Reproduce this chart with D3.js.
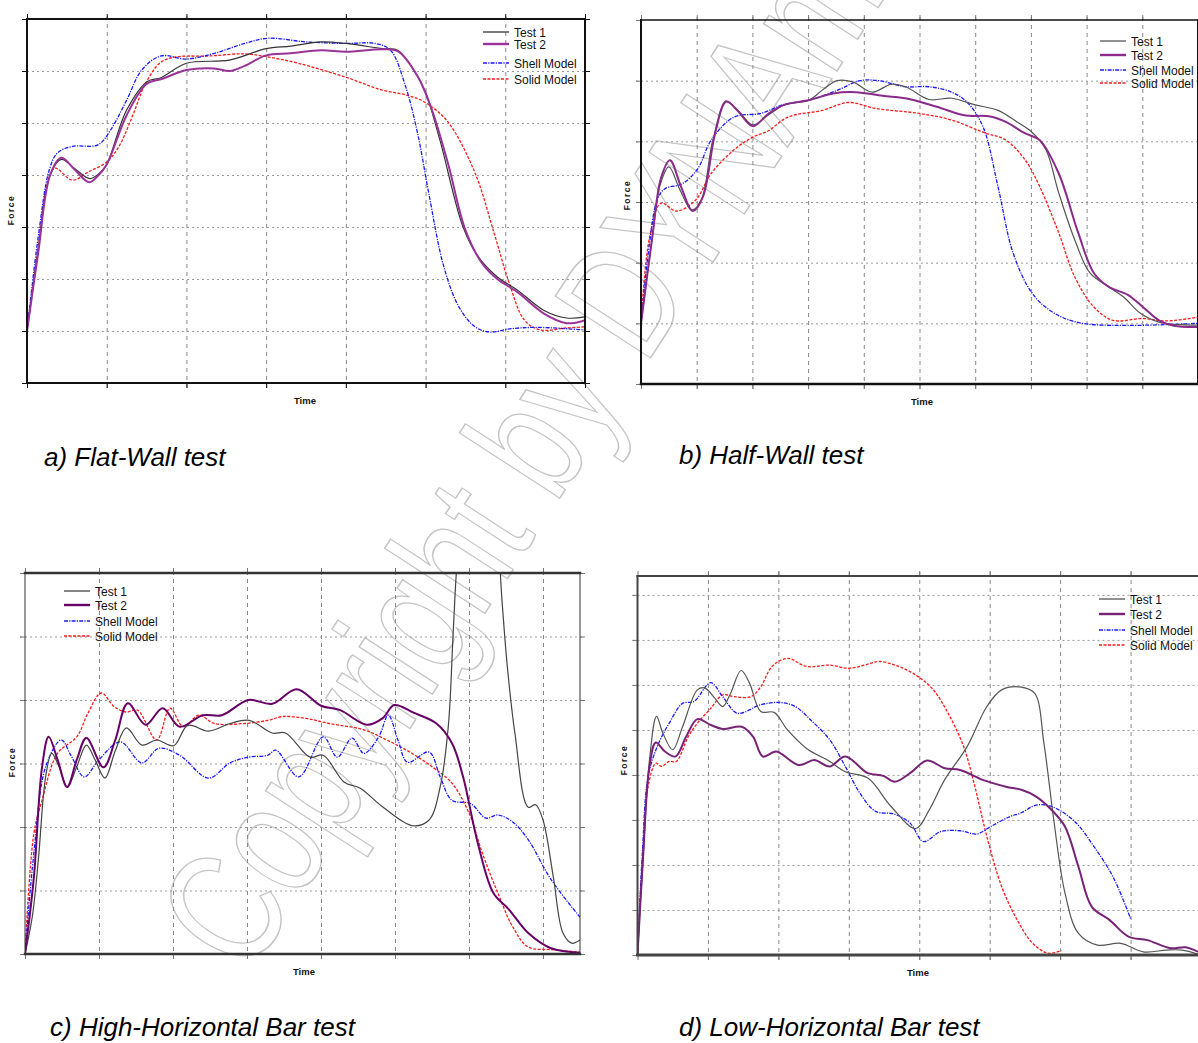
<!DOCTYPE html>
<html>
<head>
<meta charset="utf-8">
<script src="https://cdn.jsdelivr.net/npm/d3@7/dist/d3.min.js"></script>
<style>
    html, body { margin: 0; padding: 0; background: #fff; }
    svg { display: block; }
    text { font-family: 'Liberation Sans', Arial, sans-serif; }
</style>
</head>
<body>
<svg id="chart" width="1198" height="1043"></svg>
<script>
// series names, shared by the four panels
var seriesNames = ['Test 1', 'Test 2', 'Shell Model', 'Solid Model'];

// panel captions
var captions = ['a) Flat-Wall test', 'b) Half-Wall test',
    'c) High-Horizontal Bar test', 'd) Low-Horizontal Bar test'];

// values, [time, force] in grid units

// a) flat wall
var flatTest1 = [[0,1.0],[0.14,2.56],[0.29,4.0],[0.43,4.3],[0.6,4.12],[0.79,3.93],[0.92,4.05],[1.0,4.2],[1.25,5.25],[1.51,5.8],[1.68,5.87],[2.0,6.15],[2.54,6.21],[3.0,6.43],[3.31,6.48],[3.69,6.56],[4.0,6.53],[4.46,6.43],[4.65,6.4],[4.85,6.02],[4.99,5.63],[5.18,4.67],[5.47,3.0],[5.66,2.43],[5.9,2.04],[6.15,1.79],[6.48,1.4],[6.77,1.25],[7.0,1.27]];
var flatTest2 = [[0,1.0],[0.14,2.5],[0.29,4.0],[0.43,4.33],[0.6,4.1],[0.78,3.86],[0.9,4.0],[1.0,4.2],[1.25,5.15],[1.5,5.75],[1.7,5.85],[2.0,6.02],[2.35,6.05],[2.54,6.0],[2.73,6.1],[3.0,6.3],[3.31,6.34],[3.69,6.4],[4.0,6.37],[4.46,6.42],[4.65,6.38],[4.9,5.9],[5.08,5.25],[5.28,4.23],[5.5,2.94],[5.71,2.3],[5.9,2.0],[6.15,1.75],[6.48,1.34],[6.77,1.15],[7.0,1.21]];
var flatShell = [[0,1.0],[0.14,2.8],[0.28,4.1],[0.38,4.42],[0.57,4.55],[0.89,4.58],[1.05,4.87],[1.25,5.44],[1.44,6.02],[1.68,6.29],[2.0,6.23],[2.35,6.34],[2.73,6.53],[3.02,6.63],[3.5,6.56],[4.0,6.53],[4.37,6.53],[4.56,6.4],[4.75,5.7],[4.9,4.8],[5.04,3.65],[5.23,2.23],[5.42,1.46],[5.62,1.08],[5.81,0.98],[6.05,1.04],[6.39,1.07],[7.0,1.02]];
var flatSolid = [[0,1.0],[0.14,2.6],[0.25,3.8],[0.35,4.13],[0.57,3.9],[0.77,4.06],[1.0,4.25],[1.15,4.54],[1.32,5.12],[1.49,5.77],[1.68,6.17],[1.87,6.27],[2.3,6.29],[2.73,6.33],[3.02,6.27],[3.4,6.15],[4.0,5.88],[4.46,5.63],[4.75,5.54],[4.99,5.4],[5.28,5.02],[5.62,4.04],[5.86,2.88],[6.05,1.92],[6.24,1.21],[6.44,1.02],[6.77,1.06],[7.0,1.08]];

// b) half wall
var halfTest1 = [[0,1.0],[0.2,2.4],[0.35,3.3],[0.5,3.58],[0.7,3.2],[0.91,2.87],[1.08,3.03],[1.29,4.02],[1.53,4.65],[1.74,4.51],[2.01,4.27],[2.28,4.43],[2.57,4.6],[3.02,4.68],[3.25,4.84],[3.52,5.0],[3.8,4.98],[4.15,4.81],[4.49,4.94],[4.75,4.9],[5.17,4.69],[5.58,4.71],[6.0,4.6],[6.41,4.51],[6.75,4.32],[7.02,4.15],[7.27,3.86],[7.5,3.15],[7.79,2.37],[8.06,1.83],[8.4,1.6],[8.67,1.43],[8.96,1.17],[9.3,1.02],[10,0.97]];
var halfTest2 = [[0,1.0],[0.2,2.4],[0.36,3.4],[0.52,3.69],[0.72,3.25],[0.93,2.85],[1.11,3.08],[1.33,4.13],[1.53,4.66],[1.74,4.5],[2.01,4.25],[2.28,4.45],[2.57,4.6],[3.02,4.68],[3.45,4.79],[3.86,4.81],[4.34,4.75],[4.75,4.71],[5.31,4.57],[5.8,4.43],[6.27,4.41],[6.55,4.32],[6.9,4.13],[7.16,4.02],[7.5,3.47],[7.85,2.49],[8.13,1.83],[8.4,1.6],[8.74,1.47],[9.01,1.27],[9.3,1.05],[9.57,0.96],[10,0.94]];
var halfShell = [[0,1.0],[0.15,2.3],[0.29,3.03],[0.43,3.22],[0.74,3.3],[1.02,3.55],[1.26,4.02],[1.67,4.4],[2.15,4.46],[2.57,4.61],[3.02,4.68],[3.52,4.84],[3.93,5.0],[4.27,5.0],[4.75,4.9],[5.17,4.9],[5.58,4.81],[5.85,4.65],[6.14,4.24],[6.41,3.25],[6.68,2.16],[7.02,1.5],[7.38,1.19],[7.92,1.0],[10,1.0]];
var halfSolid = [[0,1.0],[0.15,2.4],[0.36,2.98],[0.64,2.85],[0.98,3.03],[1.26,3.47],[1.67,3.86],[2.01,4.07],[2.28,4.17],[2.64,4.4],[3.25,4.51],[3.73,4.64],[4.22,4.54],[5.0,4.46],[5.58,4.35],[6.14,4.15],[6.55,4.02],[6.9,3.69],[7.16,3.25],[7.5,2.49],[7.79,1.76],[8.13,1.27],[8.47,1.05],[9.01,1.08],[9.42,1.04],[10,1.1]];

// c) high horizontal bar
var highTest1 = [[0,0],[0.1,0.6],[0.18,1.48],[0.28,2.8],[0.36,3.16],[0.46,2.95],[0.57,2.63],[0.7,2.95],[0.83,3.29],[0.95,3.05],[1.08,2.77],[1.22,3.2],[1.37,3.56],[1.58,3.29],[1.78,3.37],[2.01,3.28],[2.2,3.6],[2.48,3.51],[2.77,3.63],[3.03,3.68],[3.34,3.48],[3.52,3.48],[3.85,3.1],[4.03,3.13],[4.31,2.71],[4.53,2.61],[4.84,2.31],[5.24,2.02],[5.46,2.11],[5.61,2.63],[5.72,3.58],[5.79,5.15],[5.85,6.3],[6.0,7.5],[6.2,7.8],[6.38,6.6],[6.45,5.5],[6.52,4.5],[6.62,3.48],[6.8,2.31],[6.9,2.35],[7.0,2.11],[7.14,1.21],[7.27,0.33],[7.39,0.17],[7.5,0.22]];
var highTest2 = [[0,0],[0.12,1.21],[0.23,2.94],[0.32,3.42],[0.44,3.06],[0.57,2.63],[0.7,3.06],[0.83,3.4],[1.06,2.94],[1.22,3.37],[1.39,3.95],[1.63,3.61],[1.86,3.87],[2.09,3.58],[2.4,3.76],[2.66,3.76],[3.02,4.0],[3.34,3.94],[3.67,4.17],[4.0,3.91],[4.26,3.84],[4.62,3.61],[4.83,3.71],[4.99,3.92],[5.25,3.8],[5.56,3.63],[5.77,3.32],[5.92,2.79],[6.12,1.74],[6.33,0.96],[6.54,0.7],[6.8,0.33],[7.11,0.09],[7.5,0.02]];
var highShell = [[0,0],[0.12,1.59],[0.28,2.95],[0.49,3.37],[0.62,3.13],[0.8,2.79],[1.0,3.06],[1.29,3.34],[1.58,3.01],[1.81,3.24],[2.09,3.13],[2.48,2.77],[2.77,3.01],[3.02,3.1],[3.28,3.13],[3.39,3.21],[3.7,2.79],[4.03,3.42],[4.22,3.1],[4.42,3.4],[4.58,3.16],[4.78,3.42],[4.91,3.76],[5.04,3.37],[5.17,3.02],[5.46,3.18],[5.61,2.79],[5.77,2.42],[6.02,2.37],[6.23,2.14],[6.39,2.19],[6.59,2.08],[6.8,1.8],[7.11,1.17],[7.5,0.58]];
var highSolid = [[0,0],[0.12,1.9],[0.23,2.42],[0.44,3.16],[0.7,3.42],[0.85,3.79],[1.03,4.11],[1.21,3.89],[1.37,3.81],[1.52,3.84],[1.78,3.37],[1.96,3.87],[2.14,3.58],[2.35,3.76],[2.56,3.63],[2.97,3.63],[3.28,3.68],[3.49,3.74],[3.8,3.71],[4.11,3.63],[4.58,3.53],[4.89,3.37],[5.2,3.18],[5.5,2.95],[5.77,2.69],[6.0,2.22],[6.18,1.59],[6.39,0.96],[6.59,0.43],[6.8,0.11],[7.11,0.07],[7.5,0.03]];

// d) low horizontal bar
var lowTest1 = [[0,0],[0.08,2.2],[0.17,4.33],[0.27,5.3],[0.36,4.93],[0.5,4.56],[0.64,5.07],[0.85,5.89],[0.96,5.93],[1.1,5.7],[1.21,5.52],[1.32,5.81],[1.47,6.32],[1.59,6.04],[1.75,5.41],[1.94,5.39],[2.13,5.0],[2.4,4.59],[2.73,4.3],[2.95,4.07],[3.27,3.93],[3.6,3.3],[3.95,2.81],[4.14,3.22],[4.36,3.89],[4.68,4.63],[4.96,5.52],[5.17,5.89],[5.45,5.95],[5.64,5.81],[5.77,4.7],[5.91,3.0],[6.07,1.37],[6.26,0.48],[6.53,0.22],[6.86,0.26],[7.18,0.07],[7.51,0.11],[7.73,0.11],[8.0,0]];
var lowTest2 = [[0,0],[0.08,2.2],[0.17,4.19],[0.26,4.72],[0.39,4.52],[0.54,4.41],[0.69,4.85],[0.85,5.24],[1.04,5.11],[1.21,5.02],[1.48,5.07],[1.64,4.85],[1.78,4.41],[1.97,4.52],[2.29,4.22],[2.51,4.33],[2.73,4.19],[2.95,4.41],[3.27,4.04],[3.49,3.98],[3.65,3.85],[3.87,4.04],[4.11,4.32],[4.36,4.15],[4.58,4.11],[4.9,3.89],[5.23,3.74],[5.45,3.67],[5.66,3.52],[5.88,3.22],[6.07,2.85],[6.26,1.96],[6.45,1.07],[6.7,0.78],[6.97,0.41],[7.24,0.33],[7.57,0.15],[7.78,0.17],[8.0,0.04]];
var lowShell = [[0,0],[0.07,2.3],[0.15,3.96],[0.28,4.63],[0.45,5.15],[0.64,5.59],[0.8,5.63],[1.04,6.05],[1.21,5.74],[1.42,5.37],[1.75,5.56],[2.02,5.61],[2.24,5.52],[2.46,5.22],[2.73,4.78],[2.95,4.19],[3.16,3.59],[3.38,3.19],[3.65,3.13],[3.87,2.93],[4.06,2.52],[4.3,2.74],[4.58,2.76],[4.82,2.69],[5.01,2.85],[5.28,3.07],[5.45,3.16],[5.66,3.33],[5.88,3.3],[6.21,2.96],[6.48,2.41],[6.75,1.74],[7.0,0.81]];
var lowSolid = [[0,0],[0.07,2.11],[0.15,3.74],[0.26,4.26],[0.34,4.19],[0.45,4.3],[0.55,4.3],[0.72,4.85],[0.85,5.15],[1.04,5.48],[1.21,5.78],[1.37,5.74],[1.61,5.74],[1.75,5.96],[1.91,6.41],[2.13,6.59],[2.4,6.41],[2.73,6.44],[3.0,6.37],[3.22,6.44],[3.43,6.52],[3.71,6.41],[3.98,6.19],[4.2,5.89],[4.41,5.37],[4.63,4.63],[4.79,3.74],[4.96,2.63],[5.17,1.52],[5.39,0.78],[5.61,0.26],[5.83,0.04],[6.02,0.1]];

// grid extents (time intervals, force intervals) of each panel
var timeSpans = [7, 10, 7.5, 8];
var forceSpans = [7, 6, 6, 8.42];

(function () {
    'use strict';

    var svg = d3.select('#chart');

    // layout of the four panels
    var panels = [
        {
            box: {l: 27, r: 585, t: 19, b: 383},
            series: [flatTest1, flatTest2, flatShell, flatSolid],
            t2: '#993399', t1: '#333',
            spine: {t: 2, r: 2, b: 2, l: 2, c: '#111'},
            legend: {x: 483, ys: [32, 44, 63, 79]},
            force: [11, 210], time: [305, 404],
            caption: [44, 466],
        },
        {
            box: {l: 641, r: 1198, t: 20, b: 384},
            series: [halfTest1, halfTest2, halfShell, halfSolid],
            t2: '#8a2a8a', t1: '#555',
            spine: {t: 1.5, r: 2, b: 2.5, l: 2, c: '#111'},
            legend: {x: 1100, ys: [41, 55, 70, 83]},
            force: [627, 195], time: [922, 405],
            caption: [679, 464],
        },
        {
            box: {l: 25, r: 580, t: 573, b: 954},
            series: [highTest1, highTest2, highShell, highSolid],
            t2: '#660066', t1: '#444',
            spine: {t: 2.5, r: 1, b: 2.5, l: 1, c: '#333'},
            legend: {x: 64, ys: [591, 605, 621, 636]},
            force: [12, 762], time: [304, 975],
            caption: [50, 1036],
        },
        {
            box: {l: 637.5, r: 1201, t: 576, b: 955},
            series: [lowTest1, lowTest2, lowShell, lowSolid],
            t2: '#772277', t1: '#555',
            spine: {t: 2, r: 1, b: 3, l: 2, c: '#444'},
            legend: {x: 1099, ys: [599, 614, 630, 645]},
            force: [624, 760], time: [918, 976],
            caption: [679, 1036],
        },
    ];

    // light outlined watermark running across the figure
    svg.append('text')
        .attr('transform', 'translate(248,978) rotate(-57) scale(0.75,1)')
        .attr('font-size', 165)
        .attr('fill', 'none')
        .attr('stroke', '#c4c4c4')
        .attr('stroke-width', 1.5)
        .text('Copyright by DYNAmore');

    // stroke style of each series
    function styleOf(p, i) {
        return [
            {c: p.t1, w: 1.2, d: null},
            {c: p.t2, w: 2, d: null},
            {c: '#1a1aff', w: 1.3, d: '4,1.2,1.2,1.2'},
            {c: '#ff1a1a', w: 1.3, d: '3,1.5'},
        ][i];
    }

    function drawPanel(p, k) {
        var b = p.box,
            g = svg.append('g'),
            x = d3.scaleLinear().domain([0, timeSpans[k]]).range([b.l, b.r]),
            y = d3.scaleLinear().domain([0, forceSpans[k]]).range([b.b, b.t]),
            gx = d3.range(1, Math.ceil(timeSpans[k])).filter(function (v) { return v < timeSpans[k]; }),
            gy = d3.range(1, Math.ceil(forceSpans[k])).filter(function (v) { return v < forceSpans[k]; }),
            h = b.b - b.t,
            w = b.r - b.l;

        // vertical dashed grid, with small ticks poking out top and bottom
        g.append('g')
            .attr('transform', 'translate(0,' + (b.b + 5) + ')')
            .call(d3.axisBottom(x).tickValues(gx).tickSize(-(h + 11)).tickFormat(''))
            .call(function (s) { s.select('.domain').remove(); })
            .selectAll('line')
            .attr('stroke', '#888')
            .attr('stroke-dasharray', '4,4');

        // horizontal dotted grid
        g.append('g')
            .attr('transform', 'translate(' + (b.l - 5) + ',0)')
            .call(d3.axisLeft(y).tickValues(gy).tickSize(-(w + 10)).tickFormat(''))
            .call(function (s) { s.select('.domain').remove(); })
            .selectAll('line')
            .attr('stroke', '#999')
            .attr('stroke-dasharray', '2,3');

        // solid outward ticks on the frame
        [
            [d3.axisTop(x).tickValues(d3.range(0, timeSpans[k] + 0.01)), 'translate(0,' + b.t + ')'],
            [d3.axisBottom(x).tickValues(d3.range(0, timeSpans[k] + 0.01)), 'translate(0,' + b.b + ')'],
            [d3.axisLeft(y).tickValues(d3.range(0, forceSpans[k] + 0.01)), 'translate(' + b.l + ',0)'],
            [d3.axisRight(y).tickValues(d3.range(0, forceSpans[k] + 0.01)), 'translate(' + b.r + ',0)'],
        ].forEach(function (a) {
            g.append('g')
                .attr('transform', a[1])
                .call(a[0].tickSize(5).tickFormat(''))
                .call(function (s) { s.select('.domain').remove(); })
                .selectAll('line')
                .attr('stroke', k === 0 ? '#111' : '#777')
                .attr('stroke-width', 1);
        });

        // curves, clipped to the plot box
        var clipId = 'clip' + k;
        g.append('clipPath').attr('id', clipId)
            .append('rect')
            .attr('x', b.l).attr('y', b.t)
            .attr('width', w).attr('height', h);

        var line = d3.line()
            .x(function (d) { return x(d[0]); })
            .y(function (d) { return y(d[1]); })
            .curve(d3.curveCatmullRom.alpha(0.5));

        var order = [3, 2, 0, 1];
        order.forEach(function (i) {
            var st = styleOf(p, i);
            g.append('path')
                .datum(p.series[i])
                .attr('clip-path', 'url(#' + clipId + ')')
                .attr('d', line)
                .attr('fill', 'none')
                .attr('stroke', st.c)
                .attr('stroke-width', st.w)
                .attr('stroke-dasharray', st.d)
                .attr('stroke-linejoin', 'round');
        });

        // frame
        var sp = p.spine;
        [
            [b.l, b.t, b.r, b.t, sp.t],
            [b.r, b.t, b.r, b.b, sp.r],
            [b.l, b.b, b.r, b.b, sp.b],
            [b.l, b.t, b.l, b.b, sp.l],
        ].forEach(function (s) {
            g.append('line')
                .attr('x1', s[0]).attr('y1', s[1])
                .attr('x2', s[2]).attr('y2', s[3])
                .attr('stroke', sp.c)
                .attr('stroke-width', s[4])
                .attr('stroke-linecap', 'square');
        });

        // legend
        seriesNames.forEach(function (name, i) {
            var st = styleOf(p, i),
                ly = p.legend.ys[i];
            g.append('line')
                .attr('x1', p.legend.x).attr('x2', p.legend.x + 26)
                .attr('y1', ly).attr('y2', ly)
                .attr('stroke', st.c)
                .attr('stroke-width', st.w === 2 ? 2.4 : 1.3)
                .attr('stroke-dasharray', st.d);
            g.append('text')
                .attr('x', p.legend.x + 31)
                .attr('y', ly + 4.5)
                .attr('font-size', 12)
                .attr('fill', '#111')
                .text(name);
        });

        // axis titles
        g.append('text')
            .attr('transform', 'translate(' + p.force[0] + ',' + p.force[1] + ') rotate(-90)')
            .attr('text-anchor', 'middle')
            .attr('dy', '0.35em')
            .attr('font-size', 8.5)
            .attr('font-weight', 'bold')
            .attr('letter-spacing', 1.5)
            .attr('fill', '#111')
            .text('Force');

        g.append('text')
            .attr('x', p.time[0])
            .attr('y', p.time[1])
            .attr('text-anchor', 'middle')
            .attr('font-size', 9.5)
            .attr('font-weight', 'bold')
            .attr('fill', '#111')
            .text('Time');

        // caption under the panel
        svg.append('text')
            .attr('x', p.caption[0])
            .attr('y', p.caption[1])
            .attr('font-size', 26)
            .attr('font-style', 'italic')
            .attr('fill', '#000')
            .text(captions[k]);
    }

    panels.forEach(drawPanel);
}());
</script>
</body>
</html>
